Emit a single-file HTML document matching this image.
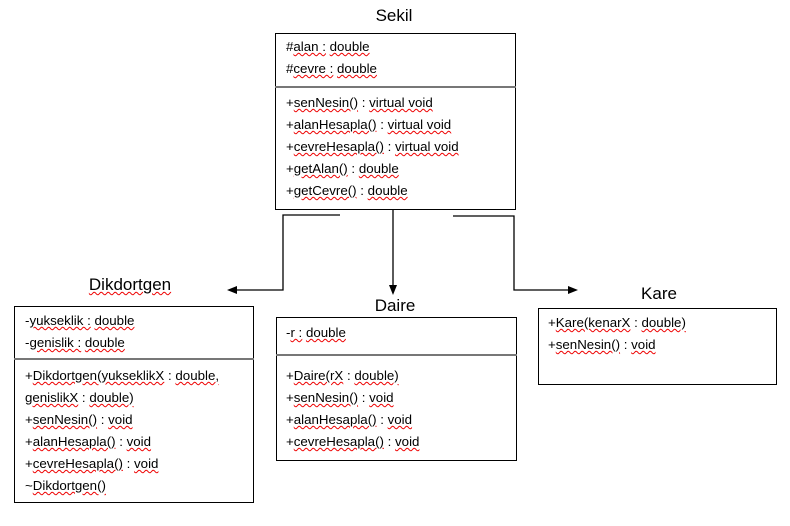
<!DOCTYPE html>
<html><head><meta charset="utf-8"><style>
body{margin:0;width:790px;height:526px;background:#fff;position:relative;overflow:hidden;font-family:"Liberation Sans",sans-serif;color:#000}
.b{position:absolute;border:1px solid #000;box-sizing:border-box}
.t{position:absolute;font-size:13.3px;line-height:22px;white-space:nowrap}
.h{position:absolute;font-size:17px;white-space:nowrap;transform:translateX(-50%)}
.d{position:absolute;height:0;border-top:2px solid #777}
u{text-decoration:underline wavy #e00;text-decoration-thickness:1px}
</style></head><body>
<div class="h" style="left:394px;top:6px">Sekil</div>
<div class="b" style="left:275px;top:33px;width:241px;height:177px"></div>
<div class="d" style="left:275px;top:86px;width:241px"></div>
<div class="t" style="left:286px;top:36px">#<u>alan :</u> <u>double</u><br>#<u>cevre :</u> <u>double</u></div>
<div class="t" style="left:286px;top:92px">+<u>senNesin()</u> : <u>virtual void</u><br>+<u>alanHesapla()</u> : <u>virtual void</u><br>+<u>cevreHesapla()</u> : <u>virtual void</u><br>+<u>getAlan()</u> : <u>double</u><br>+<u>getCevre()</u> : <u>double</u></div>

<svg style="position:absolute;left:0;top:0" width="790" height="526">
<g stroke="#000" stroke-width="1.3" fill="none">
<polyline points="340,215 283,215 283,290 236,290"/>
<line x1="393" y1="209" x2="393" y2="286"/>
<polyline points="453,216 514,216 514,290 569,290"/>
</g>
<g fill="#000">
<polygon points="227,290 237,286 237,294"/>
<polygon points="393,295 389,285 397,285"/>
<polygon points="578,290 568,286 568,294"/>
</g>
</svg>

<div class="h" style="left:130px;top:275px"><u>Dikdortgen</u></div>
<div class="b" style="left:14px;top:306px;width:240px;height:197px"></div>
<div class="d" style="left:14px;top:358px;width:240px"></div>
<div class="t" style="left:25px;top:310px">-<u>yukseklik :</u> <u>double</u><br>-<u>genislik :</u> <u>double</u></div>
<div class="t" style="left:25px;top:365px">+<u>Dikdortgen(yukseklikX</u> : <u>double,</u><br><u>genislikX</u> : <u>double)</u><br>+<u>senNesin()</u> : <u>void</u><br>+<u>alanHesapla()</u> : <u>void</u><br>+<u>cevreHesapla()</u> : <u>void</u><br>~<u>Dikdortgen()</u></div>

<div class="h" style="left:395px;top:296px">Daire</div>
<div class="b" style="left:276px;top:317px;width:241px;height:144px"></div>
<div class="d" style="left:276px;top:354px;width:241px"></div>
<div class="t" style="left:286px;top:322px">-<u>r :</u> <u>double</u></div>
<div class="t" style="left:286px;top:365px">+<u>Daire(rX</u> : <u>double)</u><br>+<u>senNesin()</u> : <u>void</u><br>+<u>alanHesapla()</u> : <u>void</u><br>+<u>cevreHesapla()</u> : <u>void</u></div>

<div class="h" style="left:659px;top:284px">Kare</div>
<div class="b" style="left:538px;top:308px;width:239px;height:77px"></div>
<div class="t" style="left:548px;top:312px">+<u>Kare(kenarX</u> : <u>double)</u><br>+<u>senNesin()</u> : <u>void</u></div>
</body></html>
